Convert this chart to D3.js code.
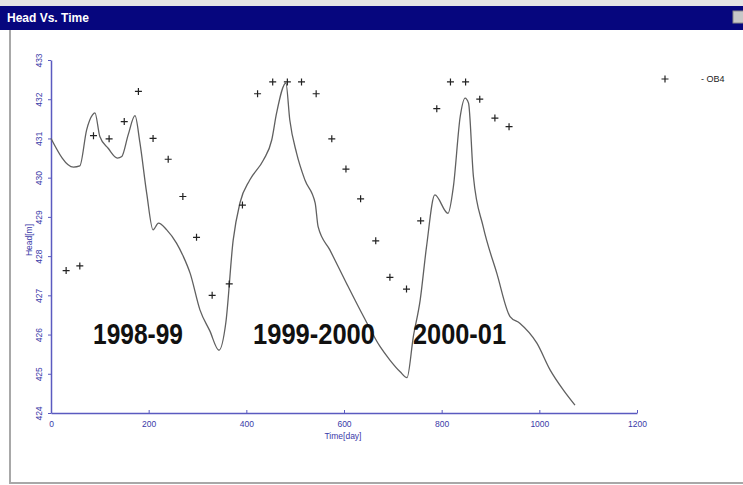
<!DOCTYPE html>
<html>
<head>
<meta charset="utf-8">
<script src="https://cdn.jsdelivr.net/npm/d3@7"></script>
<style>
body{margin:0;background:#fff;}
svg{display:block;}
.axis path,.axis line{stroke:#5a5ac0;}
.axis text{fill:#3a3aa8;font-family:"Liberation Sans",Arial,sans-serif;font-size:8.5px;}
</style>
</head>
<body>
<svg id="chart" width="743" height="485"></svg>
<script>
// simulated head (line)
var simDays=[0,46,59,73,85,90,100,117,136,145,158,172,182,196,209,220,237,257,271,285,305,325,344,358,373,387,
  407,435,452,462,481,489,503,520,541,547,571,605,640,674,694,715,729,742,756,769,786,813,824,838,848,855,865,885,913,940,960,995,1022,1049,1073];
var simHead=[431.0,430.27,430.3,431.22,431.6,431.65,431.05,430.75,430.5,430.54,431.09,431.58,430.9,429.6,428.67,428.84,428.67,428.33,427.99,427.56,426.63,426.1,425.6,426.3,428.4,429.36,
  429.94,430.45,430.96,431.65,432.41,431.47,430.62,429.94,429.35,428.75,428.16,427.31,426.46,425.69,425.35,425.05,424.9,425.95,426.88,428.24,429.56,429.09,429.77,431.56,432.03,431.9,430.03,428.75,427.56,426.46,426.29,425.78,425.1,424.59,424.2];

// observed OB4 (+ markers)
var obsDays=[31,59,87,119,150,179,209,240,270,298,330,365,392,423,454,484,513,543,575,604,634,665,694,728,757,790,818,849,878,909,938];
var obsHead=[427.63,427.75,431.07,430.99,431.43,432.2,431.0,430.47,429.52,428.48,427.0,427.29,429.3,432.14,432.44,432.44,432.44,432.14,430.99,430.22,429.46,428.39,427.46,427.16,428.9,431.76,432.44,432.44,432.0,431.52,431.3];

var xTicks=[0,200,400,600,800,1000,1200];
var yTicks=[424,425,426,427,428,429,430,431,432,433];
var seasons=["1998-99","1999-2000","2000-01"];

var svg=d3.select("#chart");

// window chrome
svg.append("rect").attr("x",0).attr("y",0).attr("width",743).attr("height",6).attr("fill","#e4e4e4");
svg.append("rect").attr("x",0).attr("y",6).attr("width",743).attr("height",24).attr("fill","#06067e");
svg.append("text").attr("x",7).attr("y",22).attr("fill","#fff")
  .style("font-family","Liberation Sans,Arial,sans-serif").style("font-weight","bold").style("font-size","12px")
  .text("Head Vs. Time");
svg.append("rect").attr("x",733).attr("y",11).attr("width",12).attr("height",12).attr("fill","#c8c8c8").attr("stroke","#888");
svg.append("rect").attr("x",9).attr("y",30).attr("width",2).attr("height",454).attr("fill","#a8a8a8");
svg.append("rect").attr("x",9).attr("y",482).attr("width",740).attr("height",2).attr("fill","#a8a8a8");

var x=d3.scaleLinear().domain([0,1200]).range([51,637]);
var y=d3.scaleLinear().domain([424,433]).range([413,60]);

var gx=svg.append("g").attr("class","axis").attr("transform","translate(0,413)")
  .call(d3.axisBottom(x).tickValues(xTicks).tickSize(-3).tickSizeOuter(0).tickPadding(8).tickFormat(d3.format("d")));
gx.select(".domain").attr("stroke-width",1.5);

var gy=svg.append("g").attr("class","axis").attr("transform","translate(51,0)")
  .call(d3.axisLeft(y).tickValues(yTicks).tickSize(3).tickSizeOuter(0).tickFormat(d3.format("d")));
gy.select(".domain").attr("stroke-width",1.5);
gy.selectAll("text").attr("transform","rotate(-90)").attr("x",0).attr("y",-9).attr("dy",0)
  .attr("text-anchor","middle");

svg.append("text").attr("x",343).attr("y",439).attr("text-anchor","middle")
  .attr("fill","#3a3aa8").style("font-family","Liberation Sans,Arial,sans-serif").style("font-size","8.5px")
  .text("Time[day]");
svg.append("text").attr("transform","translate(32,240) rotate(-90)").attr("text-anchor","middle")
  .attr("fill","#3a3aa8").style("font-family","Liberation Sans,Arial,sans-serif").style("font-size","8.5px")
  .text("Head[m]");

// simulated line
var line=d3.line().curve(d3.curveMonotoneX)
  .x(function(d,i){return x(simDays[i]);}).y(function(d){return y(d);});
svg.append("path").datum(simHead).attr("d",line).attr("fill","none")
  .attr("stroke","#606060").attr("stroke-width",1.3);

// observed markers
svg.selectAll(".obs").data(obsHead).enter().append("path").attr("class","obs")
  .attr("transform",function(d,i){return "translate("+x(obsDays[i])+","+y(d)+")";})
  .attr("d","M-3.5,0H3.5M0,-3.5V3.5").attr("stroke","#222").attr("stroke-width",1.2);

// legend
svg.append("path").attr("transform","translate(665,79)").attr("d","M-3.5,0H3.5M0,-3.5V3.5")
  .attr("stroke","#222").attr("stroke-width",1.2);
svg.append("text").attr("x",701).attr("y",82).attr("fill","#222")
  .style("font-family","Liberation Sans,Arial,sans-serif").style("font-size","9px").text("- OB4");

// season labels
var seasonX=[93,253,413];
var seasonW=[90,122,93];
svg.selectAll(".season").data(seasons).enter().append("text").attr("class","season")
  .attr("x",function(d,i){return seasonX[i];}).attr("y",344)
  .attr("textLength",function(d,i){return seasonW[i];}).attr("lengthAdjust","spacingAndGlyphs")
  .style("font-family","Liberation Sans,Arial,sans-serif").style("font-weight","bold").style("font-size","29px")
  .attr("fill","#111").text(function(d){return d;});
</script>
</body>
</html>
